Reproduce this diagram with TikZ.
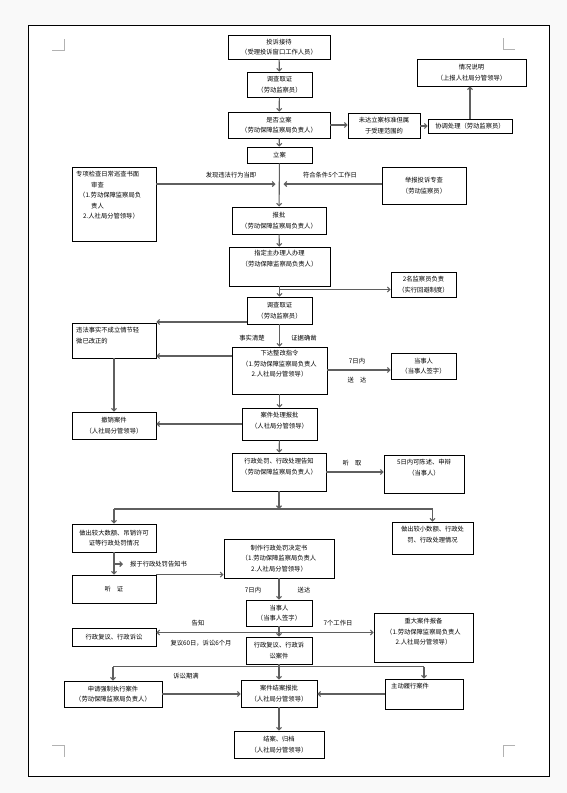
\documentclass[tikz,border=0pt]{standalone}
\usepackage{fontspec}
\newfontfamily\cjk{Noto Sans CJK SC}
\usetikzlibrary{arrows.meta,calc}
\definecolor{lc}{RGB}{95,95,95}
\begin{document}
\begin{tikzpicture}[x=1pt,y=-1pt,
  box/.style={draw, line width=0.8pt, inner sep=0pt},
  txt/.style={font=\cjk\fontsize{6.3}{10.5}\selectfont, inner sep=0pt, align=center},
  cb/.style={box, txt},
  arr/.style={draw=lc, line width=1.1pt, -{Straight Barb[length=2.5pt,width=5pt]}},
  ln/.style={draw=lc, line width=1.1pt},
  lbl/.style={font=\cjk\fontsize{6.3}{8}\selectfont, inner sep=0pt},
  mk/.style={draw=gray!60, line width=0.5pt}]
\useasboundingbox (0,0) rectangle (567,793);
\fill[gray!5] (0,0) rectangle (567,793);
\fill[white] (28,25) rectangle (549,776);
\draw[line width=0.6pt] (28,25) rectangle (549,776);
% crop marks
\draw[mk] (52,50) -- (64,50) -- (64,39);
\draw[mk] (503,38) -- (503,49) -- (515,49);
\draw[mk] (52,745) -- (64,745) -- (64,757);
\draw[mk] (515,745) -- (503,745) -- (503,757);

% nodes
\node[cb, minimum width=102pt, minimum height=24pt] (n1) at (279,47) {投诉接待\\（受理投诉窗口工作人员）};
\node[cb, minimum width=65pt, minimum height=25pt] (n2) at (279.5,84.5) {调查取证\\（劳动监察员）};
\node[cb, minimum width=102pt, minimum height=26pt] (n3) at (279,125) {是否立案\\（劳动保障监察局负责人）};
\node[cb, minimum width=65pt, minimum height=16pt] (n4) at (279.5,155) {立案};
\node[cb, minimum width=72pt, minimum height=25pt] (n5) at (384,125.5) {未达立案标准但属\\于受理范围的};
\node[cb, minimum width=84pt, minimum height=14pt] (n6) at (470,126) {协调处理（劳动监察员）};
\node[cb, minimum width=109pt, minimum height=27pt] (n7) at (471.5,72.5) {情况说明\\（上报人社局分管领导）};

\node[box, minimum width=84pt, minimum height=74pt] (n8) at (114,204) {};
\node[txt, align=left, anchor=north west] (t8) at (76,171) {专项检查日常巡查书面\\\hspace*{15pt}审查\\\hspace*{3pt}（1.劳动保障监察局负\\\hspace*{15pt}责人\\\hspace*{7pt}2.人社局分管领导）};
\node[cb, minimum width=84pt, minimum height=37pt] (n9) at (424,185.5) {举报投诉专查\\（劳动监察员）};

\node[cb, minimum width=94pt, minimum height=27pt] (n11) at (279,220.5) {报批\\（劳动保障监察局负责人）};
\node[box, minimum width=101pt, minimum height=39pt] (n12) at (279.5,266.5) {};
\node[txt, anchor=north] (t12) at (279.5,250) {指定主办理人办理\\（劳动保障监察局负责人）};
\node[cb, minimum width=65pt, minimum height=25pt] (n13) at (423.5,284.5) {2名监察员负责\\（实行回避制度）};
\node[cb, minimum width=65pt, minimum height=27pt] (n14) at (279.5,310.5) {调查取证\\（劳动监察员）};

\node[box, minimum width=84pt, minimum height=35pt] (n15) at (114,340.5) {};
\node[txt, align=left, anchor=north west] (t15) at (76,327) {违法事实不成立情节轻\\微已改正的};
\node[box, minimum width=95pt, minimum height=47pt] (n16) at (279.5,370.5) {};
\node[txt, anchor=north] (t16) at (279.5,350) {下达整改指令\\（1.劳动保障监察局负责人\\2.人社局分管领导）};
\node[cb, minimum width=65pt, minimum height=26pt] (n17) at (423.5,366) {当事人\\（当事人签字）};

\node[cb, minimum width=84pt, minimum height=27pt] (n18) at (114,425.5) {撤销案件\\（人社局分管领导）};
\node[box, minimum width=75pt, minimum height=32pt] (n19) at (279.5,424) {};
\node[txt, anchor=north] (t19) at (279.5,412) {案件处理报批\\（人社局分管领导）};

\node[box, minimum width=94pt, minimum height=38pt] (n20) at (279,472) {};
\node[txt, anchor=north] (t20) at (279,458) {行政处罚、行政处理告知\\（劳动保障监察局负责人）};
\node[box, minimum width=80pt, minimum height=38pt] (n21) at (424,474) {};
\node[txt, anchor=north] (t21) at (424,459) {5日内可陈述、申辩\\（当事人）};

\node[cb, minimum width=84pt, minimum height=28pt] (n22) at (114,538) {做出较大数额、吊销许可\\证等行政处罚情况};
\node[box, minimum width=81pt, minimum height=32pt] (n23) at (432.5,538) {};
\node[txt, anchor=north] (t23) at (432.5,526) {做出较小数额、行政处\\罚、行政处理情况};
\node[cb, minimum width=110pt, minimum height=39pt] (n24) at (279,558.5) {制作行政处罚决定书\\（1.劳动保障监察局负责人\\2.人社局分管领导）};
\node[cb, minimum width=84pt, minimum height=28pt] (n25) at (114,589) {听\hspace{6pt}证};
\node[cb, minimum width=66pt, minimum height=26pt] (n26) at (279,613) {当事人\\（当事人签字）};
\node[cb, minimum width=84pt, minimum height=18pt] (n27) at (114,637) {行政复议、行政诉讼};
\node[box, minimum width=99pt, minimum height=49pt] (n28) at (423.5,637.5) {};
\node[txt, anchor=north] (t28) at (423.5,618) {重大案件报备\\（1.劳动保障监察局负责人\\2.人社局分管领导）};
\node[cb, minimum width=66pt, minimum height=27pt] (n29) at (279,650.5) {行政复议、行政诉\\讼案件};
\node[cb, minimum width=98pt, minimum height=26pt] (n30) at (113,694) {申请强制执行案件\\（劳动保障监察局负责人）};
\node[cb, minimum width=76pt, minimum height=27pt] (n31) at (279,693.5) {案件结案报批\\（人社局分管领导）};
\node[box, minimum width=78pt, minimum height=30pt] (n32) at (424,694) {};
\node[txt, anchor=north west] (t32) at (391,683) {主动履行案件};
\node[cb, minimum width=90pt, minimum height=27pt] (n33) at (279,744.5) {结案、归档\\（人社局分管领导）};

% junction coordinates
\coordinate (j1) at (279.5,184);
\coordinate (j2) at (279.5,289.5);
\coordinate (j3) at (279,509);
\coordinate (j4) at (279,632.5);
\coordinate (j5) at (279,666.5);
\coordinate (s1) at (113,564);
\coordinate (s2) at (123,564);
\coordinate (p1) at (247,322);

% connectors
\draw[arr] (n1) -- (n2);
\draw[arr] (n2) -- (n3);
\draw[arr] (n3) -- (n4);
\draw[arr] (n3.east) -- (n5.west |- n3.east);
\draw[arr] (n5.east |- n6.west) -- (n6.west);
\draw[arr] (n6.north) -- (n6.north |- n7.south);
\draw[arr] (n4) -- (n11);
\draw[arr, shorten >=4pt] (n8.east |- j1) -- (j1);
\draw[arr, shorten >=4pt] (n9.west |- j1) -- (j1);
\draw[arr] (n11) -- (n12);
\draw[arr] (n12) -- (n14);
\draw[arr] (j2) -- (n13.west |- j2);
\draw[arr] (p1) -- (n15.east |- p1);
\draw[arr] (n14) -- (n16);
\draw[arr] (n16.west |- 0,356) -- (n15.east |- 0,356);
\draw[arr] (n16.east |- 0,370) -- (n17.west |- 0,370);
\draw[arr] (n15) -- (n18);
\draw[arr] (n16) -- (n19);
\draw[arr] (n19.west |- 0,424) -- (n18.east |- 0,424);
\draw[arr] (n19) -- (n20);
\draw[arr] (n20.east) -- (n21.west |- n20.east);
\draw[arr] (n20.south) -- (j3);
\draw[ln] (n22.north |- j3) -- (n23.north |- j3);
\draw[arr] (n22.north |- j3) -- (n22.north);
\draw[arr] (n23.north |- j3) -- (n23.north);
\draw[arr] (n22) -- (n25);
\draw[arr] (s1) -- (s2);
\draw[arr] (n25.north east) -- (n24.west |- n25.north east);
\draw[arr] (n24) -- (n26);
\draw[arr] (n26) -- (n29);
\draw[arr] (j4) -- (n27.east |- j4);
\draw[arr] (j4) -- (n28.west |- j4);
\draw[ln] (n29.south) -- (j5);
\draw[ln] (n30.north |- j5) -- (n32.north |- j5);
\draw[arr] (n30.north |- j5) -- (n30.north);
\draw[arr] (j5) -- (n31.north);
\draw[arr] (n32.north |- j5) -- (n32.north);
\draw[arr] (n30.east) -- (n31.west |- n30.east);
\draw[arr] (n32.west) -- (n31.east |- n32.west);
\draw[arr] (n31) -- (n33);

% labels
\node[lbl] (l1) at (231,175) {发现违法行为当即};
\node[lbl] (l2) at (330,175) {符合条件5个工作日};
\node[lbl] (l3) at (252,338) {事实清楚};
\node[lbl] (l4) at (304,338) {证据确凿};
\node[lbl] (l5) at (357,361) {7日内};
\node[lbl] (l6) at (357,380) {送\hspace{6pt}达};
\node[lbl] (l7) at (352,463) {听\hspace{6pt}取};
\node[lbl, anchor=west] (l8) at (130,564) {报于行政处罚告知书};
\node[lbl] (l9) at (253,590) {7日内};
\node[lbl] (l10) at (304,590) {送达};
\node[lbl] (l11) at (198,623) {告知};
\node[lbl] (l12) at (201,643) {复议60日，诉讼6个月};
\node[lbl] (l13) at (338,623) {7个工作日};
\node[lbl] (l14) at (186,676) {诉讼期满};
\end{tikzpicture}
\end{document}
